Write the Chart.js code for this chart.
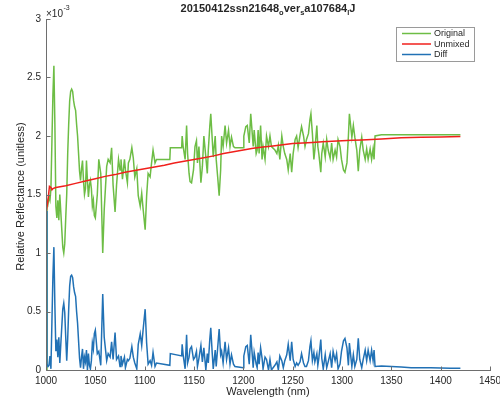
<!DOCTYPE html>
<html>
<head>
<meta charset="utf-8">
<script src="https://cdn.jsdelivr.net/npm/chart.js@4/dist/chart.umd.min.js"></script>
<style>
  html, body { margin: 0; padding: 0; background: #fff; }
  canvas { display: block; }
</style>
</head>
<body>
<canvas id="c" width="500" height="402"></canvas>
<script>
// Wavelength samples (nm) shared by the Original and Diff spectra
const wavelength = [
  1000,1001,1002,1003,1004,1005,1006,1007,1008,1009,
  1010,1011,1012,1013,1014,1015,1016,1017,1018,1019,
  1020,1021,1022,1023,1024,1025,1026,1027,1028,1029,
  1030,1031,1032,1033,1034,1035,1036,1037,1038,1039,
  1040,1041,1042,1043,1044,1045,1046,1047,1048,1049,
  1050,1052,1053.5,1055.5,1057.5,1059,1061.5,1063,1065,1066.5,
  1068,1070,1071.5,1073.5,1075,1076,1077.5,1079.5,1080.5,1082.5,
  1083.5,1085,1087,1088.5,1090,1092,1093.5,1095.5,1097,1098.5,
  1100.5,1102,1103.5,1105.5,1107,1108.5,1110.5,1112,1125.5,1126,
  1137.5,1138,1139,1141,1142.5,1143.5,1145,1146,1147.5,1149.5,
  1151,1152.5,1153.5,1155,1157,1158.5,1160,1162,1163.5,1164.5,
  1166,1167,1168.5,1169.5,1171.5,1172.5,1174,1175.5,1177,1178,
  1179.5,1181.5,1183,1185,1186.5,1188,1190,1191.5,1200,1200.5,
  1202.5,1204,1206,1207.5,1208.5,1210,1211,1213,1214,1215,
  1216,1217.5,1219,1220,1222,1223.5,1225.5,1227,1228.5,1232,
  1234,1235.5,1237,1239,1240.5,1242,1244,1245.5,1247.5,1249,
  1250.5,1252.5,1254,1255.5,1257.5,1259,1261,1262.5,1264,1266,
  1267.5,1268.5,1270,1271.5,1272.5,1274.5,1275.5,1276.5,1278.5,1279.5,
  1281,1283,1284.5,1286,1288,1289.5,1291,1293,1294.5,1296,
  1298,1299.5,1301.5,1303,1305,1306.5,1307.5,1310,1311.5,1313,
  1315,1316.5,1318,1320,1321.5,1323.5,1325,1326.5,1328.5,1330,
  1331.5,1332.5,1333.5,1340,1350,1360,1370,1380,1390,1400,
  1410,1420
];

// Measured reflectance, in units of 1e-3
const original = [
  0.00,1.45,1.42,1.48,1.45,1.55,1.95,2.35,2.60,2.10,
  1.40,1.30,1.45,1.28,1.50,1.35,1.20,1.05,1.00,1.08,
  1.30,1.50,1.85,2.10,2.30,2.38,2.40,2.38,2.30,2.25,
  2.22,2.10,2.00,1.85,1.70,1.62,1.72,1.79,1.62,1.50,
  1.55,1.79,1.62,1.48,1.58,1.62,1.55,1.40,1.45,1.32,
  1.30,1.50,1.80,1.68,1.00,1.37,1.74,1.80,1.77,1.90,
  1.58,1.35,1.58,1.80,1.71,1.80,1.63,1.80,1.71,1.60,
  1.77,1.80,1.90,1.81,1.65,1.72,1.49,1.40,1.51,1.37,
  1.20,1.49,1.68,1.65,1.77,1.88,1.77,1.80,1.80,1.90,
  1.90,2.00,1.91,1.80,2.09,1.85,1.68,1.61,1.60,1.71,
  1.91,1.96,1.77,1.91,1.60,1.74,2.00,1.82,1.68,1.88,
  2.08,2.19,1.97,1.82,2.00,1.80,1.65,1.49,1.71,2.00,
  1.91,2.09,1.94,2.05,1.91,1.99,1.91,1.90,1.90,2.00,
  2.08,2.09,1.94,2.19,2.08,1.91,2.05,1.85,1.88,2.05,
  1.85,2.09,1.80,1.91,1.80,2.00,1.91,2.00,1.91,1.88,
  1.85,1.92,1.80,2.00,1.91,1.85,1.80,1.71,1.85,1.69,
  1.85,1.97,2.00,1.90,2.01,2.08,2.00,1.91,1.97,2.02,
  2.14,2.19,2.02,1.80,1.88,2.09,1.91,1.85,1.69,1.85,
  1.94,1.82,1.97,1.88,1.81,1.94,1.80,1.88,1.82,1.97,
  1.91,1.80,1.71,1.69,1.77,2.00,2.19,1.99,2.09,1.99,
  1.88,1.70,1.88,1.99,1.88,1.80,1.89,1.80,1.89,1.80,
  1.89,1.80,2.00,2.01,2.01,2.01,2.01,2.01,2.01,2.01,
  2.01,2.01
];

// Absolute difference between measured and unmixed reflectance (1e-3)
const diff = [
  1.36,0.05,0.03,0.04,0.12,0.01,0.41,0.80,1.05,0.55,
  0.16,0.26,0.11,0.28,0.06,0.22,0.37,0.52,0.57,0.49,
  0.28,0.08,0.27,0.52,0.72,0.80,0.81,0.79,0.71,0.66,
  0.63,0.50,0.40,0.25,0.10,0.02,0.11,0.18,0.01,0.11,
  0.07,0.17,0.00,0.14,0.04,0.01,0.08,0.23,0.18,0.31,
  0.34,0.14,0.16,0.04,0.65,0.28,0.08,0.14,0.11,0.24,
  0.09,0.32,0.09,0.12,0.03,0.12,0.05,0.11,0.02,0.09,
  0.08,0.10,0.20,0.11,0.06,0.01,0.22,0.31,0.21,0.35,
  0.52,0.23,0.05,0.08,0.04,0.15,0.03,0.06,0.04,0.14,
  0.12,0.22,0.13,0.01,0.30,0.06,0.11,0.18,0.20,0.09,
  0.11,0.16,0.03,0.10,0.21,0.07,0.19,0.00,0.14,0.06,
  0.26,0.36,0.14,0.01,0.17,0.03,0.19,0.35,0.13,0.16,
  0.06,0.24,0.09,0.19,0.05,0.13,0.05,0.03,0.02,0.12,
  0.20,0.21,0.05,0.30,0.19,0.02,0.15,0.05,0.02,0.15,
  0.05,0.19,0.10,0.01,0.11,0.09,0.00,0.09,0.00,0.04,
  0.07,0.00,0.12,0.08,0.02,0.08,0.13,0.22,0.08,0.24,
  0.09,0.03,0.06,0.04,0.07,0.14,0.06,0.03,0.03,0.08,
  0.20,0.25,0.08,0.15,0.07,0.14,0.04,0.10,0.26,0.10,
  0.01,0.13,0.02,0.07,0.14,0.02,0.16,0.08,0.14,0.01,
  0.05,0.16,0.25,0.27,0.19,0.04,0.23,0.03,0.13,0.03,
  0.09,0.27,0.09,0.02,0.09,0.17,0.08,0.17,0.08,0.17,
  0.08,0.17,0.03,0.035,0.03,0.025,0.02,0.02,0.02,0.018,
  0.016,0.015
];

// Unmixed (modelled) reflectance is smooth, so it is sampled more sparsely
const unmixedWavelength = [
  1000,1002,1003.5,1005,1006,1007,1010,1020,1030,1040,
  1050,1060,1070,1080,1090,1100,1110,1120,1130,1140,
  1150,1160,1170,1180,1190,1200,1210,1220,1230,1240,
  1250,1260,1270,1280,1290,1300,1310,1320,1330,1340,
  1360,1380,1400,1420
];
const unmixed = [
  1.34,1.45,1.57,1.56,1.54,1.55,1.56,1.575,1.595,1.615,
  1.635,1.655,1.67,1.69,1.705,1.72,1.735,1.75,1.77,1.785,
  1.80,1.815,1.83,1.85,1.865,1.88,1.895,1.905,1.915,1.925,
  1.935,1.94,1.945,1.95,1.955,1.96,1.963,1.966,1.97,1.975,
  1.985,1.99,1.992,1.995
];

const xTicks = [1000,1050,1100,1150,1200,1250,1300,1350,1400,1450];
const yTicks = [0,0.5,1,1.5,2,2.5,3];

const seriesNames = ['Original','Unmixed','Diff'];
const seriesColors = ['#6dbd45','#f0201c','#2171b5'];

const titleParts = [
  ['20150412ssn21648', false], ['o', true], ['ver', false], ['s', true],
  ['a107684', false], ['l', true], ['J', false]
];
const xTitle = 'Wavelength (nm)';
const yTitle = 'Relative Reflectance (unitless)';

const FONT = '"Liberation Sans", Arial, Helvetica, sans-serif';
const TEXT = '#262626';
const AXIS = '#6e6e6e';

const pts = (xs, ys) => xs.map((x, i) => ({ x: x, y: ys[i] }));

// Axes lines, inward ticks, exponent, titles and legend box
const decorations = {
  id: 'decorations',
  afterDatasetsDraw(chart) {
    const ctx = chart.ctx;
    const a = chart.chartArea;
    const xs = chart.scales.x, ys = chart.scales.y;
    ctx.save();
    ctx.strokeStyle = AXIS;
    ctx.lineWidth = 1;
    ctx.beginPath();
    const L = Math.round(a.left) + 0.5, B = Math.round(a.bottom) + 0.5;
    ctx.moveTo(L, Math.round(a.top));
    ctx.lineTo(L, B);
    ctx.lineTo(Math.round(a.right) + 1, B);
    xTicks.forEach(v => {
      const px = Math.round(xs.getPixelForValue(v)) + 0.5;
      ctx.moveTo(px, B); ctx.lineTo(px, B - 4);
    });
    yTicks.forEach(v => {
      const py = Math.round(ys.getPixelForValue(v)) + 0.5;
      ctx.moveTo(L, py); ctx.lineTo(L + 4, py);
    });
    ctx.stroke();

    ctx.fillStyle = TEXT;
    // exponent label
    ctx.textBaseline = 'alphabetic';
    ctx.textAlign = 'left';
    ctx.font = '10px ' + FONT;
    ctx.fillText('\u00d710', a.left, 17);
    const w10 = ctx.measureText('\u00d710').width;
    ctx.font = '7px ' + FONT;
    ctx.fillText('-3', a.left + w10 + 0.5, 10);

    // title with subscripts
    const mainFont = 'bold 11px ' + FONT, subFont = 'bold 7.5px ' + FONT;
    let total = 0;
    titleParts.forEach(([t, sub]) => { ctx.font = sub ? subFont : mainFont; total += ctx.measureText(t).width; });
    let tx = (a.left + a.right) / 2 - total / 2;
    titleParts.forEach(([t, sub]) => {
      ctx.font = sub ? subFont : mainFont;
      ctx.fillText(t, tx, sub ? 14.5 : 11.5);
      tx += ctx.measureText(t).width;
    });

    // axis titles
    ctx.font = '11px ' + FONT;
    ctx.textAlign = 'center';
    ctx.fillText(xTitle, (a.left + a.right) / 2, 395);
    ctx.save();
    ctx.translate(24, (a.top + a.bottom) / 2 + 2);
    ctx.rotate(-Math.PI / 2);
    ctx.fillText(yTitle, 0, 0);
    ctx.restore();

    // legend
    ctx.fillStyle = '#fff';
    ctx.fillRect(396, 27, 78, 34);
    ctx.strokeStyle = '#9a9a9a';
    ctx.strokeRect(396.5, 27.5, 78, 34);
    ctx.font = '9px ' + FONT;
    ctx.textAlign = 'left';
    ctx.textBaseline = 'middle';
    seriesNames.forEach((name, i) => {
      const y = 33.5 + i * 10.5;
      ctx.strokeStyle = seriesColors[i];
      ctx.lineWidth = 1.5;
      ctx.beginPath(); ctx.moveTo(402, y); ctx.lineTo(431, y); ctx.stroke();
      ctx.fillStyle = TEXT;
      ctx.fillText(name, 434, y + 0.5);
    });
    ctx.restore();
  }
};

new Chart(document.getElementById('c'), {
  type: 'line',
  data: {
    datasets: [
      { label: seriesNames[0], data: pts(wavelength, original), borderColor: seriesColors[0], order: 3 },
      { label: seriesNames[1], data: pts(unmixedWavelength, unmixed), borderColor: seriesColors[1], order: 2 },
      { label: seriesNames[2], data: pts(wavelength, diff), borderColor: seriesColors[2], order: 1 }
    ]
  },
  options: {
    responsive: false,
    animation: false,
    devicePixelRatio: 1,
    parsing: false,
    normalized: true,
    elements: {
      line: { borderWidth: 1.5, tension: 0, fill: false },
      point: { radius: 0, hoverRadius: 0 }
    },
    layout: { padding: { left: 0, top: 19, right: 10, bottom: 0 } },
    plugins: { legend: { display: false }, title: { display: false }, tooltip: { enabled: false } },
    scales: {
      x: {
        type: 'linear', min: 1000, max: 1450,
        afterFit(s) { s.height = 32; s.paddingLeft = 0; s.paddingRight = 0; },
        afterBuildTicks(s) { s.ticks = xTicks.map(v => ({ value: v })); },
        grid: { display: false, drawTicks: false },
        border: { display: false },
        ticks: { padding: 5, color: TEXT, font: { family: FONT, size: 10 }, maxRotation: 0, autoSkip: false, callback: v => String(v) }
      },
      y: {
        type: 'linear', min: 0, max: 3,
        afterFit(s) { s.width = 46; s.paddingTop = 0; s.paddingBottom = 0; },
        afterBuildTicks(s) { s.ticks = yTicks.map(v => ({ value: v })); },
        grid: { display: false, drawTicks: false },
        border: { display: false },
        ticks: { padding: 5, color: TEXT, font: { family: FONT, size: 10 }, autoSkip: false, callback: v => String(v) }
      }
    }
  },
  plugins: [decorations]
});
</script>
</body>
</html>
